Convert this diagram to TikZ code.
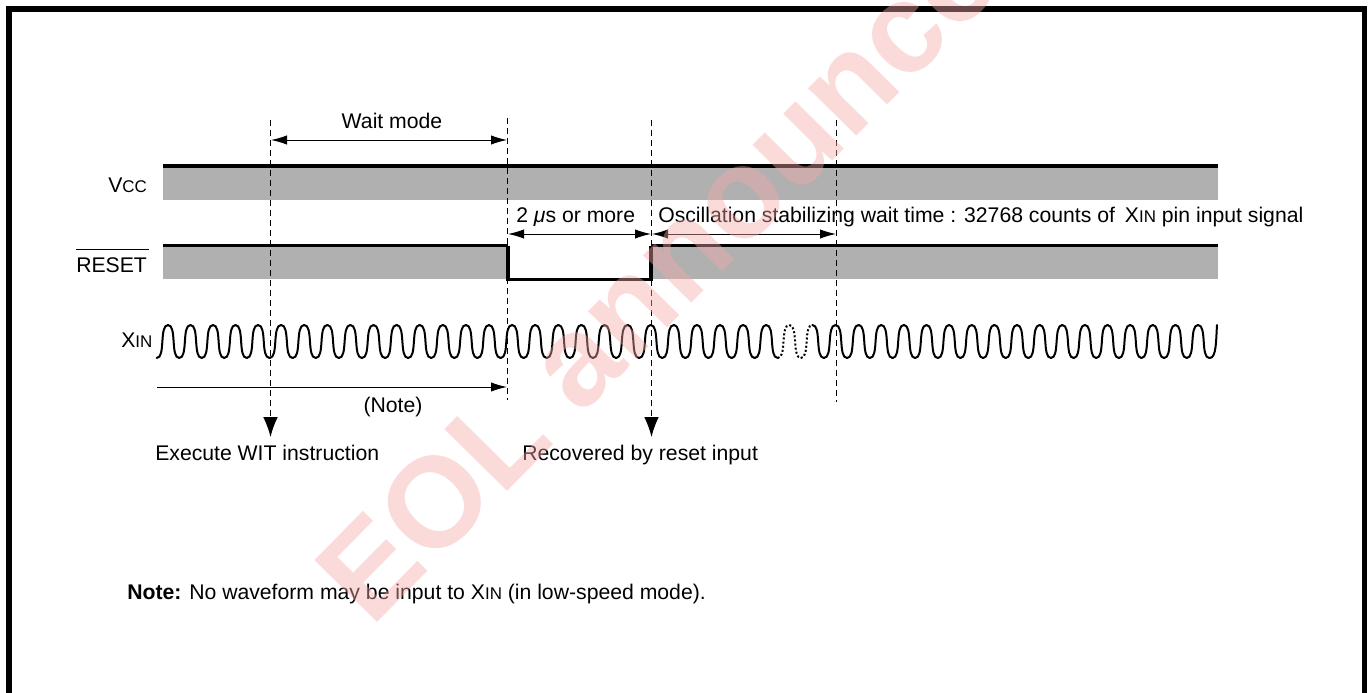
\documentclass[tikz,border=0pt]{standalone}
\usepackage{fontspec}
\setmainfont{Liberation Sans}
\usetikzlibrary{arrows.meta}
\definecolor{bandgray}{RGB}{176,176,176}
\definecolor{wmark}{RGB}{245,168,168}
\newcommand{\lowc}[1]{{\fontsize{12.7}{14}\selectfont #1}}
\newcommand{\xinlabel}{X\lowc{IN}}
\tikzset{
  lbl/.style={anchor=base west,inner sep=0pt,font=\fontsize{15.9}{18}\selectfont},
  band/.style={fill=bandgray,draw=none},
  railthick/.style={line width=2.4pt},
  railthin/.style={line width=1.6pt},
  guide/.style={dash pattern=on 4.5pt off 3pt,line width=0.95pt},
  dim/.style={line width=0.75pt,{Latex[length=12pt,width=7pt]}-{Latex[length=12pt,width=7pt]}},
  dimr/.style={line width=0.75pt,-{Latex[length=12pt,width=7pt]}},
  downhead/.style={dash pattern=on 4.5pt off 3pt,line width=0.95pt,-{Latex[length=15pt,width=11pt]}},
  wave/.style={line width=1.5pt,line cap=round},
  wavedot/.style={line width=1.5pt,dash pattern=on 1.5pt off 1.6pt},
  frameline/.style={line width=4.1pt,line join=miter},
}
\begin{document}
\begin{tikzpicture}[x=0.75pt,y=-0.75pt]
\useasboundingbox (0,0) rectangle (1372,693);
% frame
\coordinate (fbl) at (8.8,693);
\coordinate (ftl) at (8.8,9.2);
\coordinate (ftr) at (1364.5,9.2);
\coordinate (fbr) at (1364.5,693);
\draw[frameline] (fbl) -- (ftl) -- (ftr) -- (fbr);
% bands
\fill[band] (163,168) rectangle (1218,200);
\fill[band] (163,246) rectangle (508,279);
\fill[band] (651,246) rectangle (1218,279);
\coordinate (vccl) at (163,166);
\coordinate (vccr) at (1218,166);
\draw[railthick] (vccl) -- (vccr);
\coordinate (r1) at (163,245.5);
\coordinate (r2) at (508,245.5);
\coordinate (r3) at (508,279.5);
\coordinate (r4) at (651,279.5);
\coordinate (r5) at (651,245.5);
\coordinate (r6) at (1218,245.5);
\draw[railthin] (r1) -- (r2);
\draw[railthick,line join=miter] (r2) -- (r3) -- (r4) -- (r5);
\draw[railthin] (r5) -- (r6);
% guides
\coordinate (g1t) at (270.5,120);
\coordinate (g1b) at (270.5,437);
\coordinate (g2t) at (507.5,118);
\coordinate (g2b) at (507.5,400);
\coordinate (g3t) at (651.5,120);
\coordinate (g3b) at (651.5,437);
\coordinate (g4t) at (836.5,120);
\coordinate (g4b) at (836.5,402);
\draw[downhead] (g1t) -- (g1b);
\draw[guide] (g2t) -- (g2b);
\draw[downhead] (g3t) -- (g3b);
\draw[guide] (g4t) -- (g4b);
% dimension arrows
\coordinate (d1a) at (271,140);
\coordinate (d1b) at (507,140);
\draw[dim] (d1a) -- (d1b);
\coordinate (d2a) at (508,234);
\coordinate (d2b) at (651,234);
\draw[dim] (d2a) -- (d2b);
\coordinate (d3a) at (652,234);
\coordinate (d3b) at (836,234);
\draw[dim] (d3a) -- (d3b);
\coordinate (d4a) at (157,387);
\coordinate (d4b) at (507,387);
\draw[dimr] (d4a) -- (d4b);
% waveform: x position of half-period index h
\foreach \h in {0,...,91}{
  \pgfmathsetmacro{\ka}{(\h-1)/2}
  \pgfmathsetmacro{\kb}{\h/2}
  \pgfmathsetmacro{\xa}{\ka<=4?168+22.5*\ka:(\ka<=30?258+23.1*(\ka-4):858.6+22.63*(\ka-30))}
  \pgfmathsetmacro{\xb}{\kb<=4?168+22.5*\kb:(\kb<=30?258+23.1*(\kb-4):858.6+22.63*(\kb-30))}
  \pgfmathsetmacro{\ca}{\xa+0.40*(\xb-\xa)*2}
  \pgfmathsetmacro{\cb}{\xb-0.40*(\xb-\xa)*2}
  \pgfmathtruncatemacro{\odd}{mod(\h,2)}
  \ifnum\odd=0
    \def\ya{358}\def\yb{325}
  \else
    \def\ya{325}\def\yb{358}
  \fi
  \pgfmathtruncatemacro{\isdot}{(\h>=54)&&(\h<=56)?1:0}
  \ifnum\isdot=1
    \draw[wavedot] (\xa,\ya) .. controls (\ca,\ya) and (\cb,\yb) .. (\xb,\yb);
  \else
    \draw[wave] (\xa,\ya) .. controls (\ca,\ya) and (\cb,\yb) .. (\xb,\yb);
  \fi
}
\coordinate (wend) at (1217,325);
\coordinate (wlast) at (1209.7,358);
\draw[wave] (wlast) .. controls (1216.5,358) and (1216,340) .. (wend);
% labels
\node[lbl,anchor=base] (twait) at (392,128) {Wait mode};
\node[lbl] (tvcc) at (108,192) {V\lowc{CC}};
\node[lbl] (treset) at (76,272) {RESET};
\coordinate (ova) at (76,249);
\coordinate (ovb) at (149,249);
\draw[line width=0.75pt] (ova) -- (ovb);
\node[lbl] (txin) at (121,347) {\xinlabel};
\node[lbl] (t2us) at (516,222.5) {2 \textit{μ}s or more};
\node[lbl] (tosc) at (658,222.5) {Oscillation stabilizing wait time : 32768 counts of\hspace{3pt} \xinlabel\ pin input signal};
\node[lbl,anchor=base] (tnote) at (393,412) {(Note)};
\node[lbl] (texe) at (155,460) {Execute WIT instruction};
\node[lbl] (trec) at (522,460) {Recovered by reset input};
\node[lbl] (tn) at (127,599.5) {\textbf{Note:} No waveform may be input to \xinlabel\ (in low-speed mode).};
% watermark
\begin{scope}
\clip (0,0) rectangle (1372,693);
\node[anchor=base west,inner sep=0pt,rotate=45.4,text=wmark,opacity=0.42,font=\fontsize{96}{96}\selectfont\bfseries] (wm) at (371,629) {EOL announced};
\end{scope}
\end{tikzpicture}
\end{document}
